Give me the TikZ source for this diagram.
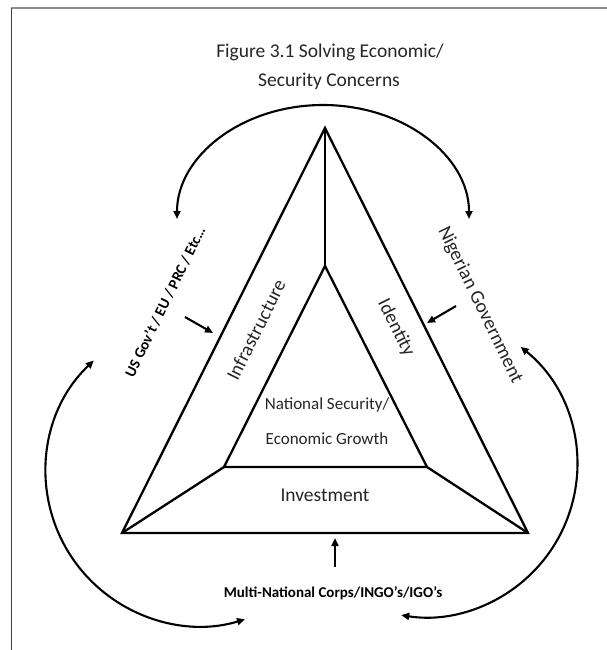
\documentclass[tikz,border=0pt]{standalone}
\usepackage{fontspec}
\setmainfont{Carlito}
\usetikzlibrary{arrows.meta,calc}
\begin{document}
\begin{tikzpicture}[x=1pt,y=1pt,
  edge/.style={line width=2.3pt, line join=miter},
  flow/.style={line width=2.1pt, -{Triangle[length=8pt,width=7pt]}},
  flows/.style={line width=2.1pt, {Triangle[length=8pt,width=7pt]}-{Triangle[length=8pt,width=7pt]}},
  txt/.style={inner sep=0pt, text=black!85},
  big/.style={txt, font=\fontsize{19.5}{23}\selectfont},
  mid/.style={txt, font=\fontsize{17}{20}\selectfont},
  actor/.style={inner sep=0pt, text=black, font=\bfseries\fontsize{15}{18}\selectfont}]
\useasboundingbox (0,0) rectangle (607,-650);
\fill[white] (0,0) rectangle (607,-650);

% page frame
\draw[black!45, line width=1.4pt] (11,-8) -- (607,-8);
\draw[black!75, line width=1.4pt] (11.5,-8) -- (11.5,-650);

% title
\node[big, anchor=base] (title1) at (330,-58) {Figure 3.1 Solving Economic/};
\node[big, anchor=base] (title2) at (329,-87) {Security Concerns};

% outer and inner triangles
\coordinate (A) at (325,-128);
\coordinate (B) at (122,-533);
\coordinate (C) at (528,-533);
\coordinate (a) at (325,-266);
\coordinate (b) at (224,-467);
\coordinate (c) at (427,-467);
\draw[edge] (A) -- (B) -- (C) -- cycle;
\draw[edge] (a) -- (b) -- (c) -- cycle;
\draw[edge] (A) -- (a);
\draw[edge] (B) -- (b);
\draw[edge] (C) -- (c);

% segment labels
\node[big, rotate=63.4] (infra) at (256,-330) {Infrastructure};
\node[big, rotate=-63.4] (ident) at (396,-328) {Identity};
\node[big] (invest) at (325,-495) {Investment};
\node[mid] (core1) at (327,-405) {National Security/};
\node[mid] (core2) at (327,-439) {Economic Growth};

% actors
\node[actor, rotate=64] (us) at (165,-302) {US Gov’t / EU / PRC / Etc…};
\node[big, rotate=-64] (ng) at (480,-305) {Nigerian Government};
\node[actor] (mnc) at (333,-593) {Multi-National Corps/INGO’s/IGO’s};

% actors pushing on the triangle
\coordinate (usFrom) at (185,-317);
\coordinate (usTo) at (213,-333);
\coordinate (ngFrom) at (456,-306);
\coordinate (ngTo) at (427,-323);
\coordinate (mncFrom) at (335,-567);
\coordinate (mncTo) at (335,-538);
\draw[flow] (usFrom) -- (usTo);
\draw[flow] (ngFrom) -- (ngTo);
\draw[flow] (mncFrom) -- (mncTo);

% cycles between actors
\coordinate (usTop) at (177,-219);
\draw[flows] (usTop) arc[start angle=180, end angle=0, x radius=146, y radius=114];
\coordinate (usLow) at ($(200,-472)+(133.6:154)$);
\draw[flows] (usLow) arc[start angle=133.6, end angle=287, radius=154];
\coordinate (ngLow) at ($(425,-465)+(51:152)$);
\draw[flows] (ngLow) arc[start angle=51, end angle=-99, radius=152];
\end{tikzpicture}
\end{document}
